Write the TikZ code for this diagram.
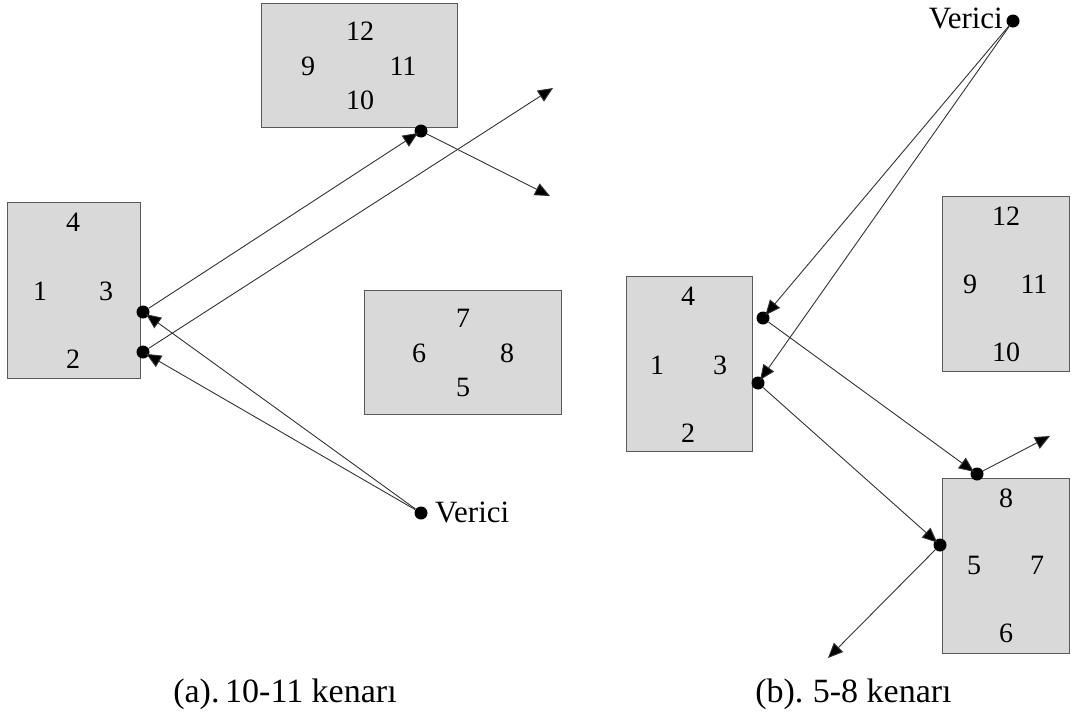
\documentclass[tikz,border=0pt]{standalone}
\usepackage{fontspec}
\setmainfont{Liberation Serif}
\usetikzlibrary{arrows.meta}
\begin{document}
\begin{tikzpicture}[x=1pt,y=-1pt,
 box/.style={draw=black!65,fill=black!15,line width=0.9pt,inner sep=0},
 lbl/.style={font=\fontsize{28}{30}\selectfont,inner sep=0},
 vlbl/.style={font=\fontsize{31}{33}\selectfont,inner sep=0},
 dot/.style={circle,fill=black,inner sep=0,minimum size=13pt},
 ray/.style={draw=black!80,line width=0.9pt,-{Triangle[length=15pt,width=13pt,fill=black]},shorten >=-3pt},
 captxt/.style={font=\fontsize{34}{36}\selectfont,inner sep=0}]
\useasboundingbox (0,0) rectangle (1072,718);
% (a) boxes
\node[box,minimum width=133pt,minimum height=176pt] (A) at (73.5,290) {};
\node[box,minimum width=196pt,minimum height=124pt] (B) at (359,65) {};
\node[box,minimum width=197pt,minimum height=124pt] (C) at (462.5,352) {};
\node[lbl] (A4) at (73,222) {4};
\node[lbl] (A1) at (40,291) {1};
\node[lbl] (A3) at (106,291) {3};
\node[lbl] (A2) at (73,359) {2};
\node[lbl] (B12) at (360,31) {12};
\node[lbl] (B9) at (308,66) {9};
\node[lbl] (B11) at (403,66) {11};
\node[lbl] (B10) at (360,100) {10};
\node[lbl] (C7) at (463,318) {7};
\node[lbl] (C6) at (419,353) {6};
\node[lbl] (C8) at (507,353) {8};
\node[lbl] (C5) at (463,387) {5};
% (b) boxes
\node[box,minimum width=126pt,minimum height=175pt] (D) at (689,363.5) {};
\node[box,minimum width=127pt,minimum height=175pt] (E) at (1005.5,283.5) {};
\node[box,minimum width=127pt,minimum height=175pt] (F) at (1005.5,565.5) {};
\node[lbl] (D4) at (688,296) {4};
\node[lbl] (D1) at (657,365) {1};
\node[lbl] (D3) at (720,365) {3};
\node[lbl] (D2) at (688,433) {2};
\node[lbl] (E12) at (1006,216) {12};
\node[lbl] (E9) at (970,284) {9};
\node[lbl] (E11) at (1034,284) {11};
\node[lbl] (E10) at (1006,352) {10};
\node[lbl] (F8) at (1006,498) {8};
\node[lbl] (F5) at (974,565) {5};
\node[lbl] (F7) at (1037,565) {7};
\node[lbl] (F6) at (1006,633) {6};
% dots
\node[dot] (va) at (421,513) {};
\node[vlbl,anchor=west] (vat) at (435,512) {Verici};
\node[dot] (a1) at (143,312) {};
\node[dot] (a2) at (143,352) {};
\node[dot] (a3) at (421,131) {};
\coordinate (e1) at (553,88);
\coordinate (e2) at (550,196);
\node[dot] (vb) at (1013,21) {};
\node[vlbl,anchor=east] (vbt) at (1003,18) {Verici};
\node[dot] (b1) at (763,318) {};
\node[dot] (b2) at (758,383) {};
\node[dot] (b3) at (977,474) {};
\node[dot] (b4) at (940,545) {};
\coordinate (e3) at (1050,436);
\coordinate (e4) at (828,658);
% rays (a)
\draw[ray] (va) -- (a1);
\draw[ray] (va) -- (a2);
\draw[ray] (a1) -- (a3);
\draw[ray,shorten >=0pt] (a2) -- (e1);
\draw[ray,shorten >=0pt] (a3) -- (e2);
% rays (b)
\draw[ray] (vb) -- (b1);
\draw[ray] (vb) -- (b2);
\draw[ray] (b1) -- (b3);
\draw[ray] (b2) -- (b4);
\draw[ray,shorten >=0pt] (b3) -- (e3);
\draw[ray,shorten >=0pt] (b4) -- (e4);
% captions
\node[captxt] (capa) at (285,694) {(a).\,10-11 kenarı};
\node[captxt] (capb) at (853.5,694) {(b).\;5-8 kenarı};
\end{tikzpicture}
\end{document}
